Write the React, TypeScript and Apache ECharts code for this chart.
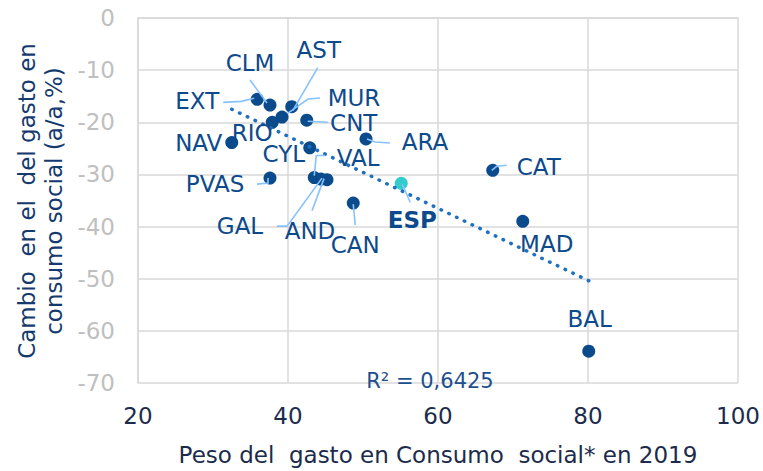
import React, { useEffect, useRef } from "react";
import * as echarts from "echarts";

// ---- Data ----
const regions = ["EXT", "CLM", "AST", "MUR", "RIO", "CNT", "NAV", "ARA", "CYL", "VAL", "PVAS", "GAL", "AND", "CAN", "ESP", "CAT", "MAD", "BAL"];
const pesoGasto2019 = [35.9, 37.6, 40.5, 39.2, 37.9, 42.5, 32.5, 50.4, 42.9, 43.5, 37.6, 44.4, 45.2, 48.7, 55.1, 67.3, 71.3, 80.1];
const cambioGasto = [-15.6, -16.7, -17.0, -19.0, -20.0, -19.6, -23.9, -23.2, -24.9, -30.6, -30.7, -30.9, -31.0, -35.5, -31.7, -29.2, -39.0, -63.9];
const trendX = [32.5, 80.1];
const trendY = [-17.5, -50.4];
const r2Text = "R² = 0,6425";
const xTitle = "Peso del  gasto en Consumo  social* en 2019";
const yTitle = "Cambio  en el  del gasto en\nconsumo social (a/a,%)";

// ---- Label placement (pixel offsets from each point) ----
const labelPlacement: Record<string, { dx: number; dy: number; line?: number[][] }> = {
  EXT: { dx: -60, dy: 2, line: [[-34, 3], [-16, 2], [-3, -1]] },
  CLM: { dx: -20, dy: -42, line: [[-20, -25], [-3, -2]] },
  AST: { dx: 27, dy: -57, line: [[26, -39], [1, 4]] },
  MUR: { dx: 72, dy: -19, line: [[38, -19], [26, -18], [6, -4]] },
  RIO: { dx: -20, dy: 11 },
  CNT: { dx: 47, dy: 3, line: [[21, 2], [1, 1]] },
  NAV: { dx: -33, dy: 0 },
  ARA: { dx: 59, dy: 3, line: [[24, 4], [9, 3], [1, 0]] },
  CYL: { dx: -26, dy: 6 },
  VAL: { dx: 44, dy: -20, line: [[11, -22], [2, -22], [0, -2]] },
  PVAS: { dx: -55, dy: 6, line: [[-13, 6], [-2, 5], [-2, 0]] },
  GAL: { dx: -81, dy: 47, line: [[-44, 47], [-34, 47], [1, -1]] },
  AND: { dx: -17, dy: 51, line: [[-15, 31], [-3, -1]] },
  CAN: { dx: 2, dy: 42, line: [[2, 22], [0, 1]] },
  ESP: { dx: 11, dy: 37, line: [[9, 19], [1, 1]] },
  CAT: { dx: 46, dy: -3, line: [[14, -5], [4, -4], [-1, 0]] },
  MAD: { dx: 24, dy: 23 },
  BAL: { dx: 1, dy: -32 },
};

const FONT = "'DejaVu Sans', 'Liberation Sans', Arial, sans-serif";

export default function App() {
  const ref = useRef<HTMLDivElement>(null);

  useEffect(() => {
    if (!ref.current) return;
    const chart = echarts.init(ref.current, undefined, { renderer: "svg" });

    const scatterData = regions.map((n, i) => ({
      name: n,
      value: [pesoGasto2019[i], cambioGasto[i]],
      itemStyle: n === "ESP" ? { color: "#33cccc" } : undefined,
    }));

    const option: any = {
      animation: false,
      backgroundColor: "#ffffff",
      grid: { left: 138, right: 25, top: 18, bottom: 85, containLabel: false },
      xAxis: {
        type: "value",
        min: 20,
        max: 100,
        interval: 20,
        name: xTitle,
        nameLocation: "middle",
        nameGap: 60,
        nameTextStyle: { color: "#1c2b4c", fontSize: 23, fontFamily: FONT },
        axisLine: { show: true, lineStyle: { color: "#d9d9d9", width: 1.5 } },
        axisTick: { show: false },
        axisLabel: { color: "#1c2b4c", fontSize: 23, fontFamily: FONT, margin: 21 },
        splitLine: { show: true, lineStyle: { color: "#d9d9d9", width: 1.5 } },
      },
      yAxis: {
        type: "value",
        min: -70,
        max: 0,
        interval: 10,
        axisLine: { show: true, lineStyle: { color: "#d9d9d9", width: 1.5 } },
        axisTick: { show: false },
        axisLabel: { color: "#bfbfbf", fontSize: 23, fontFamily: FONT, margin: 23 },
        splitLine: { show: true, lineStyle: { color: "#d9d9d9", width: 1.5 } },
      },
      graphic: [
        {
          type: "text",
          x: 40,
          y: 201,
          rotation: Math.PI / 2,
          style: {
            text: yTitle,
            fill: "#143a6e",
            fontSize: 23,
            fontFamily: FONT,
            align: "center",
            verticalAlign: "middle",
            lineHeight: 27,
          },
        },
        {
          type: "text",
          x: 430,
          y: 381,
          z: 100,
          style: {
            text: r2Text,
            fill: "#1f4f8f",
            fontSize: 21,
            fontFamily: FONT,
            align: "center",
            verticalAlign: "middle",
          },
        },
      ],
      series: [
        {
          type: "scatter",
          data: scatterData,
          symbolSize: 13,
          itemStyle: { color: "#0b4b8c", opacity: 1 },
          z: 3,
        },
        {
          type: "line",
          data: trendX.map((x, i) => [x, trendY[i]]),
          symbol: "none",
          lineStyle: { type: [0.5, 8.1], cap: "round", width: 3.5, color: "#1f70c1" },
          z: 4,
        },
        {
          type: "custom",
          clip: false,
          z: 5,
          data: regions.map((n, i) => [pesoGasto2019[i], cambioGasto[i]]),
          renderItem: (params: any, api: any) => {
            const i = params.dataIndex;
            const name = regions[i];
            const pt = api.coord([api.value(0), api.value(1)]);
            const L = labelPlacement[name];
            const children: any[] = [];
            if (L.line) {
              children.push({
                type: "polyline",
                shape: { points: L.line.map(([a, b]) => [pt[0] + a, pt[1] + b]) },
                style: { stroke: "#86c2ff", lineWidth: 1.6, fill: null },
              });
            }
            children.push({
              type: "text",
              x: pt[0] + L.dx,
              y: pt[1] + L.dy,
              style: {
                text: name,
                fill: "#0d4a8c",
                fontSize: 23,
                fontFamily: FONT,
                fontWeight: name === "ESP" ? "bold" : "normal",
                align: "center",
                verticalAlign: "middle",
              },
            });
            return { type: "group", children };
          },
        },
      ],
    };

    chart.setOption(option);
    return () => chart.dispose();
  }, []);

  return (
    <div
      ref={ref}
      style={{ position: "fixed", left: 0, top: 0, width: 763, height: 471, background: "#fff" }}
    />
  );
}
